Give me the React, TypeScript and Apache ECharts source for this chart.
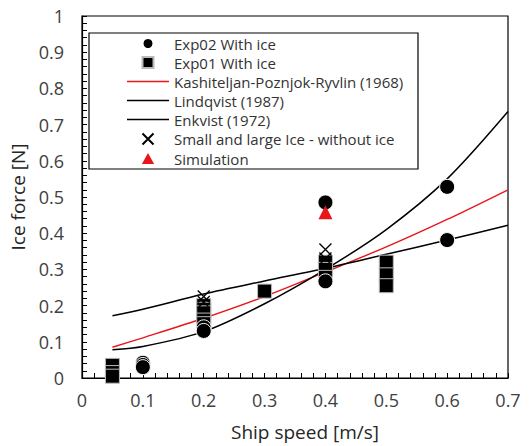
import React, { useEffect, useRef } from "react";
import * as echarts from "echarts";

// ---- data ----
const exp02X = [0.1, 0.1, 0.1, 0.2, 0.2, 0.4, 0.4, 0.6, 0.6];
const exp02Y = [0.042, 0.036, 0.03, 0.14, 0.13, 0.485, 0.267, 0.528, 0.381];

const exp01X = [0.05, 0.05, 0.05, 0.2, 0.2, 0.2, 0.2, 0.2, 0.3, 0.4, 0.4, 0.4, 0.5, 0.5, 0.5];
const exp01Y = [0.035, 0.015, 0.005, 0.2, 0.19, 0.18, 0.16, 0.15, 0.24, 0.32, 0.3, 0.278, 0.32, 0.285, 0.255];

const crossX = [0.2, 0.2, 0.4, 0.4];
const crossY = [0.225, 0.21, 0.355, 0.33];

const simX = [0.4];
const simY = [0.458];

const lineX = [0.05, 0.1, 0.2, 0.3, 0.4, 0.5, 0.6, 0.7];
const kashiteljanY = [0.085, 0.111, 0.165, 0.225, 0.293, 0.362, 0.438, 0.52];
const lindqvistY = [0.078, 0.087, 0.128, 0.205, 0.3, 0.41, 0.55, 0.736];
const enkvistY = [0.172, 0.19, 0.232, 0.268, 0.303, 0.342, 0.381, 0.422];

const legendNames = [
  "Exp02 With ice",
  "Exp01 With ice",
  "Kashiteljan-Poznjok-Ryvlin (1968)",
  "Lindqvist (1987)",
  "Enkvist (1972)",
  "Small and large Ice - without ice",
  "Simulation",
];

const pairs = (xs: number[], ys: number[]) => xs.map((x, i) => [x, ys[i]]);

const FONT = "Open Sans";
const RED = "#e8161b";
const LINE_ICON = "path://M0,0H42V1.4H0Z";
const SQUARE_ICON = "path://M0,0H10V10H0Z";
const TRI_ICON = "path://M5,0L10,9L0,9Z";
const CROSS = "path://M0,0L10,10M10,0L0,10";

export default function App() {
  const ref = useRef<HTMLDivElement>(null);
  useEffect(() => {
    if (!ref.current) return;
    const chart = echarts.init(ref.current, undefined, { renderer: "svg" });
    chart.setOption({
      animation: false,
      backgroundColor: "#fff",
      textStyle: { fontFamily: FONT },
      grid: {
        left: 81,
        right: 21,
        top: 16,
        bottom: 63,
        show: true,
        borderColor: "#000",
        borderWidth: 1.2,
        z: 0,
      },
      xAxis: {
        type: "value",
        min: 0,
        max: 0.7,
        interval: 0.1,
        name: "Ship speed [m/s]",
        nameLocation: "middle",
        nameGap: 44,
        nameTextStyle: { fontFamily: FONT, fontSize: 19, color: "#262626", padding: [0, 0, 0, 20] },
        axisLine: { onZero: false, lineStyle: { color: "#000", width: 1.2 } },
        axisTick: { inside: true, length: 5, lineStyle: { color: "#000" } },
        minorTick: { show: true, splitNumber: 5, length: 5, lineStyle: { color: "#000" } },
        splitLine: { show: false },
        axisLabel: { fontFamily: FONT, fontSize: 18, color: "#404040", margin: 13 },
      },
      yAxis: {
        type: "value",
        min: 0,
        max: 1,
        interval: 0.1,
        name: "Ice force [N]",
        nameLocation: "middle",
        nameGap: 55,
        nameTextStyle: { fontFamily: FONT, fontSize: 19, color: "#262626" },
        axisLine: { onZero: false, lineStyle: { color: "#000", width: 1.2 } },
        axisTick: { inside: true, length: 5, lineStyle: { color: "#000" } },
        minorTick: { show: true, splitNumber: 5, length: 5, lineStyle: { color: "#000" } },
        splitLine: { show: false },
        axisLabel: { fontFamily: FONT, fontSize: 18, color: "#404040", margin: 18 },
      },
      graphic: [
        {
          type: "rect",
          z: 5,
          shape: { x: 89, y: 33, width: 329, height: 136 },
          style: { fill: "#fff", stroke: "#000", lineWidth: 1.2 },
        },
      ],
      legend: {
        z: 10,
        orient: "vertical",
        left: 127,
        top: 36,
        padding: 0,
        itemWidth: 42,
        itemHeight: 11,
        itemGap: 4,
        data: [
          { name: legendNames[0], icon: "circle" },
          { name: legendNames[1], icon: SQUARE_ICON },
          { name: legendNames[2], icon: LINE_ICON },
          { name: legendNames[3], icon: LINE_ICON },
          { name: legendNames[4], icon: LINE_ICON },
          { name: legendNames[5], icon: CROSS },
          { name: legendNames[6], icon: TRI_ICON },
        ],
        textStyle: { fontFamily: FONT, fontSize: 15, color: "#333", lineHeight: 14 },
      },
      series: [
        {
          name: legendNames[2],
          type: "line",
          data: pairs(lineX, kashiteljanY),
          smooth: 0.3,
          symbol: "none",
          lineStyle: { color: RED, width: 1.4 },
          itemStyle: { color: RED },
          z: 2,
        },
        {
          name: legendNames[3],
          type: "line",
          data: pairs(lineX, lindqvistY),
          smooth: 0.3,
          symbol: "none",
          lineStyle: { color: "#000", width: 1.5 },
          itemStyle: { color: "#000" },
          z: 2,
        },
        {
          name: legendNames[4],
          type: "line",
          data: pairs(lineX, enkvistY),
          smooth: 0.3,
          symbol: "none",
          lineStyle: { color: "#000", width: 1.5 },
          itemStyle: { color: "#000" },
          z: 2,
        },
        {
          name: legendNames[1],
          type: "scatter",
          data: pairs(exp01X, exp01Y),
          symbol: "rect",
          symbolSize: 14,
          itemStyle: { color: "#000", borderColor: "#bbb", borderWidth: 1, opacity: 1 },
          z: 3,
        },
        {
          name: legendNames[0],
          type: "scatter",
          data: pairs(exp02X, exp02Y),
          symbol: "circle",
          symbolSize: 15,
          itemStyle: { color: "#000", borderColor: "#fff", borderWidth: 1, opacity: 1 },
          z: 3,
        },
        {
          name: legendNames[5],
          type: "scatter",
          data: pairs(crossX, crossY),
          symbol: CROSS,
          symbolSize: 12,
          itemStyle: { color: "none", borderColor: "#000", borderWidth: 1.3, opacity: 1 },
          z: 4,
        },
        {
          name: legendNames[6],
          type: "scatter",
          data: pairs(simX, simY),
          symbol: "triangle",
          symbolSize: 14,
          itemStyle: { color: RED, opacity: 1 },
          z: 4,
        },
      ],
    });
    return () => chart.dispose();
  }, []);
  return (
    <div
      ref={ref}
      style={{ position: "fixed", left: 0, top: 0, width: 529, height: 446, background: "#fff" }}
    />
  );
}
